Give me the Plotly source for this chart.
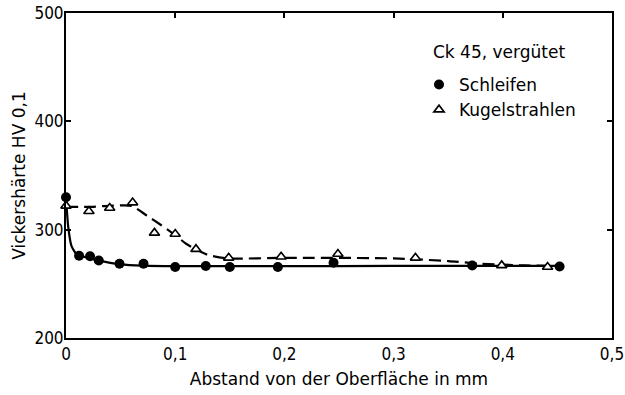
import plotly.graph_objects as go

# Measured points
schleifen_x = [0, 0.012, 0.022, 0.030, 0.049, 0.071, 0.100, 0.128, 0.150, 0.194, 0.245, 0.372, 0.452]
schleifen_y = [330, 276, 275.5, 271.5, 268.5, 268.5, 265.5, 266.5, 265.5, 265.5, 269.5, 267, 266]
kugel_x = [0, 0.021, 0.040, 0.061, 0.081, 0.100, 0.119, 0.149, 0.197, 0.249, 0.320, 0.399, 0.441]
kugel_y = [322, 317, 320, 325, 297, 296, 282, 274, 275, 277.5, 274, 267, 265.5]

# Fitted curves
schleifen_fit_x = [0, 0.002, 0.005, 0.010, 0.020, 0.035, 0.050, 0.070, 0.100, 0.200, 0.300, 0.400, 0.455]
schleifen_fit_y = [330, 303, 285, 277, 274, 270.5, 268, 266.8, 266.3, 266.3, 266.5, 266.5, 266.5]
kugel_fit_x = [0, 0.020, 0.040, 0.060, 0.074, 0.086, 0.100, 0.110, 0.129, 0.148, 0.200, 0.300, 0.350, 0.380, 0.420, 0.450]
kugel_fit_y = [321, 321, 322, 322, 313, 305, 295, 287, 277, 273.5, 274, 273.5, 271, 268.5, 267, 266.5]

x_ticks = [0, 0.1, 0.2, 0.3, 0.4, 0.5]
x_ticktext = ["0", "0,1", "0,2", "0,3", "0,4", "0,5"]
y_ticks = [200, 300, 400, 500]

FONT = "DejaVu Sans Condensed, DejaVu Sans, sans-serif"
TITLE_FONT = "DejaVu Sans, sans-serif"

L, R, T, B = 66, 13, 13, 57
PW, PH = 625 - L - R, 395 - T - B

fig = go.Figure()
fig.add_trace(go.Scatter(x=schleifen_fit_x, y=schleifen_fit_y, mode="lines",
                         line=dict(color="black", width=2.2, shape="spline", smoothing=0.6),
                         showlegend=False, hoverinfo="skip"))
fig.add_trace(go.Scatter(x=kugel_fit_x, y=kugel_fit_y, mode="lines",
                         line=dict(color="black", width=2.2, dash="12px,6px", shape="spline", smoothing=0.6),
                         showlegend=False, hoverinfo="skip"))
fig.add_trace(go.Scatter(x=schleifen_x, y=schleifen_y, mode="markers", name="Schleifen",
                         marker=dict(symbol="circle", size=10, color="black"),
                         cliponaxis=False))
fig.add_trace(go.Scatter(x=kugel_x, y=kugel_y, mode="markers", name="Kugelstrahlen",
                         marker=dict(symbol="triangle-up", size=9, color="white",
                                     line=dict(color="black", width=1.6)),
                         cliponaxis=False))
# dummy trace for top/right tick axes
fig.add_trace(go.Scatter(x=[None], y=[None], xaxis="x2", yaxis="y2", showlegend=False,
                         hoverinfo="skip"))

fig.update_layout(
    width=625, height=395,
    margin=dict(l=L, r=R, t=T, b=B, autoexpand=False),
    paper_bgcolor="white", plot_bgcolor="white",
    font=dict(family=FONT, size=17, color="black"),
    xaxis=dict(range=[0, 0.5], tickvals=x_ticks, ticktext=x_ticktext, ticks="",
               showgrid=False, zeroline=False, showline=True, linecolor="black", linewidth=2,
               mirror=True, automargin=False,
               title=dict(text="Abstand von der Oberfläche in mm",
                          font=dict(size=17, family=TITLE_FONT), standoff=10),
               tickfont=dict(size=17)),
    yaxis=dict(range=[200, 500], tickvals=y_ticks, ticks="inside", ticklen=5, tickwidth=1.5,
               tickcolor="black", ticklabelstandoff=-3,
               showgrid=False, zeroline=False, showline=True, linecolor="black", linewidth=2,
               mirror=True, automargin=False,
               title=dict(text="Vickershärte HV 0,1", font=dict(size=17, family=TITLE_FONT),
                          standoff=4),
               tickfont=dict(size=17)),
    xaxis2=dict(range=[0, 0.5], overlaying="x", side="top", tickvals=x_ticks[1:-1],
                ticks="inside", ticklen=5, tickwidth=1.5, tickcolor="black", automargin=False,
                showticklabels=False, showgrid=False, zeroline=False, showline=False),
    yaxis2=dict(range=[200, 500], overlaying="y", side="right", tickvals=y_ticks[1:-1],
                ticks="inside", ticklen=5, tickwidth=1.5, tickcolor="black", automargin=False,
                showticklabels=False, showgrid=False, zeroline=False, showline=False),
    legend=dict(x=(419 - L) / PW, y=(395 - B - 67) / PH, xanchor="left", yanchor="top",
                bgcolor="rgba(0,0,0,0)", font=dict(size=17, family=TITLE_FONT), itemwidth=30,
                tracegroupgap=0),
    annotations=[dict(text="Ck 45, vergütet", x=(431 - L) / PW, y=(395 - B - 52) / PH,
                      xref="paper", yref="paper", xanchor="left", yanchor="middle",
                      showarrow=False, font=dict(size=17, family=TITLE_FONT))],
)

fig.write_html("out.html")
